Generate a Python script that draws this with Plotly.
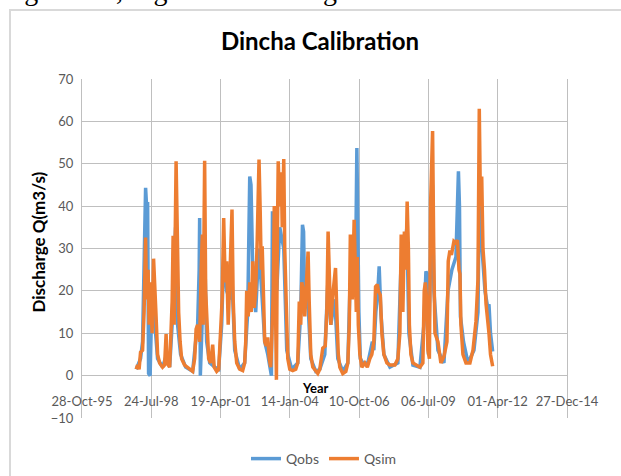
import pandas as pd
import plotly.graph_objects as go

# Excel serial day numbers (origin 1899-12-30) and discharge values (m3/s)
qsim_day = [
    35783, 35802, 35824, 35845, 35874, 35896, 35918, 35932, 35954, 35968, 35990, 36012, 36033, 36048,
    36069, 36091, 36120, 36163, 36192, 36214, 36228, 36265, 36286, 36301, 36315, 36330, 36358, 36373,
    36395, 36416, 36438, 36481, 36554,
    36597, 36626, 36647, 36669, 36698, 36720, 36737, 36749, 36770, 36785, 36806, 36828, 36857, 36886,
    36908, 36944, 36973, 37001, 37023, 37045, 37066, 37088, 37110, 37132, 37165, 37182, 37204, 37233,
    37276, 37319, 37348,
    37363, 37377, 37399, 37421, 37442, 37464, 37486, 37507, 37529, 37555, 37572, 37587, 37601, 37623,
    37637, 37659, 37681, 37702, 37724,
    37738, 37760, 37775, 37789, 37806, 37818, 37832, 37854, 37876, 37890, 37912, 37926, 37948, 37970,
    37999, 38042, 38085,
    38114, 38136, 38157, 38172, 38194, 38215, 38237, 38263, 38280, 38302, 38331, 38374, 38403, 38432,
    38446, 38475, 38511, 38533, 38552, 38569, 38591, 38613, 38634, 38659, 38678, 38699, 38721, 38764,
    38808,
    38837, 38858, 38873, 38887, 38902, 38928, 38945, 38959, 38974, 38988, 39010, 39039, 39082, 39118,
    39154,
    39183, 39212, 39237, 39263, 39277, 39306, 39328, 39357, 39400, 39444, 39516,
    39559, 39588, 39607, 39631, 39653, 39675, 39693, 39711, 39725, 39747, 39776, 39819, 39877, 39920,
    39939, 39956, 39974, 39993, 40014, 40032, 40060, 40079, 40094, 40137, 40180, 40224, 40267,
    40286, 40310, 40332, 40368, 40397, 40419, 40441, 40455, 40469, 40498, 40542, 40599, 40643, 40686,
    40715, 40734, 40751, 40769, 40787, 40809, 40831, 40852, 40874, 40896, 40927,
]
qsim_val = [
    1.5, 2.5, 1.5, 5.5, 6, 15, 32.6, 18, 25, 12, 22, 10, 27.6, 20,
    14, 5, 3, 2, 2.5, 9.8, 3, 2, 10, 17.5, 33, 12, 50.6, 30.5,
    15, 8, 4, 2.5, 1.5,
    1, 4, 11, 12, 8, 25, 33.3, 12, 50.7, 20, 10, 4, 3, 7.3,
    2, 1, 1.5, 10, 18, 37.2, 22, 27, 12, 22, 39.2, 18, 8, 3,
    1.5, 1.2, 3,
    8, 20, 14, 22, 15, 27, 16, 20, 32, 51, 38.8, 25, 30.5, 13,
    8, 7, 9, 4, 2,
    8, 20, 40, 25, -1, 30, 50.6, 40, 48, 35, 51.1, 30, 12, 4,
    1.5, 1.2, 1.5,
    3, 17.5, 12, 22, 20, 14, 20, 29.3, 17, 5, 2, 1, 0.5, 1.5,
    3, 6.5, 7, 15, 34, 20, 12, 18, 22, 25.4, 15, 5, 2, 0.5,
    1,
    3, 12, 33.3, 26, 18, 36.8, 26, 15, 28, 12, 5, 2, 3, 2,
    4,
    5, 8, 21, 21.5, 20, 19, 10, 5, 3, 2.5, 2.5,
    4, 10, 33.3, 15, 34, 25, 41.1, 30, 12, 5, 3, 2.5, 2, 3,
    20, 22, 18, 6, 4, 41, 57.7, 26, 10, 8, 3, 4.5, 8,
    27, 29.5, 28.5, 31.7, 31.3, 32, 25, 24, 12, 5, 3, 3, 6, 12.8,
    22.7, 63, 40, 47, 30, 25, 17, 14, 10, 5, 2.2,
]

qobs_day = [
    35783, 35845, 35874, 35889, 35918, 35932, 35947, 35961, 35983, 36004, 36033, 36062, 36091, 36163,
    36221, 36265, 36301, 36322, 36351, 36380, 36423, 36496,
    36597, 36640, 36669, 36691, 36698, 36708, 36727, 36770, 36799, 36843, 36915, 36973, 37016, 37045,
    37088, 37132, 37160, 37204, 37276, 37348,
    37392, 37421, 37439, 37457, 37471, 37507, 37551, 37594, 37637, 37681,
    37734, 37749, 37767, 37811, 37854, 37912, 37955, 38027,
    38114, 38157, 38182, 38198, 38215, 38259, 38302, 38374, 38432,
    38504, 38548, 38591, 38649, 38692, 38764,
    38837, 38866, 38923, 38952, 38967, 38981, 38996, 39017, 39053, 39126,
    39169, 39191, 39212, 39241, 39270, 39289, 39313, 39357, 39444,
    39559, 39602, 39646, 39689, 39718, 39776, 39877,
    39935, 39964, 39981, 40000, 40036, 40058, 40079, 40137, 40224,
    40282, 40339, 40397, 40433, 40448, 40462, 40484, 40506, 40571, 40657,
    40715, 40737, 40773, 40816, 40852, 40874, 40896, 40927,
]
qobs_val = [
    1.5, 4, 8, 22, 44.3, 40, 41, 0.5, 0, 15, 20, 10, 4, 2,
    5, 2, 12, 25, 35, 12, 5, 2,
    1, 8, 12, 25, 37.2, 0, 10, 30, 8, 3, 2, 1.5, 12, 28,
    20, 18, 25, 6, 1.5, 3,
    15, 47, 45, 32, 20, 15, 30, 20, 8, 5,
    0, 38.8, 30, 20, 35, 30, 6, 1.5,
    3, 15, 35.6, 34, 16, 18, 4, 1, 1.5,
    5, 22, 12, 18, 4, 1,
    3, 20, 25, 30, 53.7, 28.5, 15, 4, 3, 3,
    6, 8, 6, 15, 20, 25.8, 15, 5, 2,
    3, 25, 28, 35, 10, 2.5, 2,
    12, 24.6, 24, 5, 30, 45, 20, 6, 3,
    20, 25, 28, 48.2, 40, 14, 11, 8, 3, 6,
    15, 45, 30, 20, 16.4, 16.8, 10, 5.7,
]

tick_days = [35000, 36000, 37000, 38000, 39000, 40000, 41000, 42000]
y_ticks = [-10, 0, 10, 20, 30, 40, 50, 60, 70]

to_date = lambda d: pd.to_datetime(d, unit="D", origin="1899-12-30")

BLUE = "#5B9BD5"
ORANGE = "#ED7D31"
GRID = "#bfbfbf"
TXT = "#595959"
FONT = "Lato"

fig = go.Figure()
fig.add_trace(go.Scatter(x=to_date(qobs_day), y=qobs_val, mode="lines", name="Qobs",
                         line=dict(color=BLUE, width=3.5)))
fig.add_trace(go.Scatter(x=to_date(qsim_day), y=qsim_val, mode="lines", name="Qsim",
                         line=dict(color=ORANGE, width=3.5)))

tick_dates = to_date(tick_days)
fig.update_layout(
    width=621, height=476,
    margin=dict(l=82, r=54, t=79, b=58, autoexpand=False),
    paper_bgcolor="white", plot_bgcolor="white",
    font=dict(family=FONT, size=13, color=TXT),
    title=dict(text="<b>Dincha Calibration</b>", x=320 / 621, xref="container", xanchor="center",
               y=1 - 42 / 476, yref="container", yanchor="middle",
               font=dict(family=FONT, size=24, color="#000000")),
    xaxis=dict(type="date", range=[tick_dates[0], tick_dates[-1]],
               tickmode="array", tickvals=tick_dates, tickformat="%d-%b-%y",
               showgrid=True, gridcolor=GRID, gridwidth=1.3,
               anchor="free", position=(0 - (-10)) / 80, showline=False, ticks="",
               ticklabelstandoff=16, automargin=False,
               zeroline=False, tickfont=dict(size=13, color=TXT)),
    yaxis=dict(range=[-10, 70], tickmode="array", tickvals=y_ticks,
               showgrid=True, gridcolor=GRID, gridwidth=1.3, zeroline=False,
               showline=True, mirror=True, linecolor=GRID, linewidth=1.3,
               ticks="", ticklabelstandoff=5, automargin=False,
               tickfont=dict(size=13, color=TXT)),
    legend=dict(orientation="h", x=324 / 621, xref="container", xanchor="center",
                y=1 - 459 / 476, yref="container", yanchor="middle",
                font=dict(size=14, color=TXT), bgcolor="rgba(0,0,0,0)"),
    showlegend=True,
)

# chart frame
fig.add_shape(type="rect", xref="paper", yref="paper",
              x0=(10 - 82) / 485, x1=(640 - 82) / 485,
              y0=(418 - 500) / 339, y1=(418 - 10) / 339,
              line=dict(color="#d9d9d9", width=2), layer="below")

fig.add_annotation(text="<b>Year</b>", xref="paper", yref="paper",
                   x=(315 - 82) / 485, y=(418 - 388) / 339, xanchor="center", yanchor="middle",
                   showarrow=False, font=dict(family=FONT, size=13, color="#000000"))
fig.add_annotation(text="<b>Discharge Q(m3/s)</b>", xref="paper", yref="paper",
                   x=(37.5 - 82) / 485, y=(418 - 242) / 339, xanchor="center", yanchor="middle",
                   showarrow=False, textangle=-90,
                   font=dict(family=FONT, size=17, color="#000000"))
fig.add_annotation(text="Figure 5.4, Figure 5.5 and Figure 5.6.", xref="paper", yref="paper",
                   x=(-1 - 82) / 485, y=(418 - 8.5) / 339, xanchor="left", yanchor="bottom",
                   showarrow=False,
                   font=dict(family="Liberation Serif", size=28, color="#000000"))

fig.write_html("out.html", config={"displayModeBar": False},
               post_script="document.body.style.margin='0';")
